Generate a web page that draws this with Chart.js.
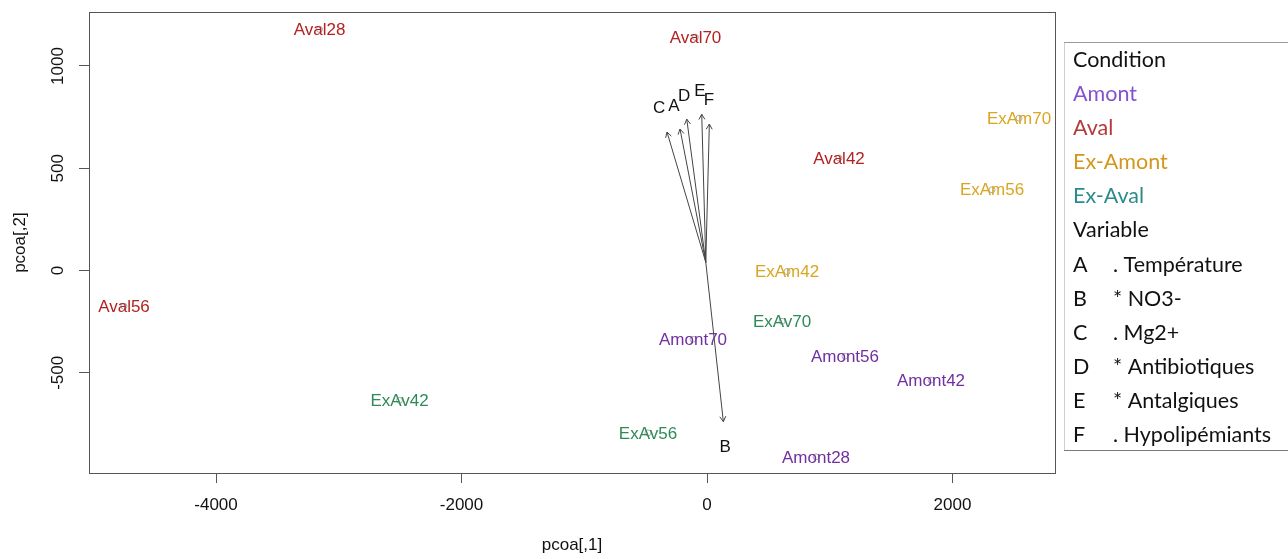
<!DOCTYPE html>
<html lang="fr">
<head>
<meta charset="utf-8">
<title>PCoA</title>
<script src="https://cdn.jsdelivr.net/npm/chart.js@4.4.0/dist/chart.umd.min.js"></script>
<style>
  html, body { margin: 0; padding: 0; background: #fff; }
  #wrap { position: relative; width: 1288px; height: 559px; }
</style>
</head>
<body>
<div id="wrap"><canvas id="pcoa-chart"></canvas></div>
<script>
// sample scores : pcoa[,1] / pcoa[,2]
const amontNames = ['Amont28', 'Amont42', 'Amont56', 'Amont70'];
const amontX = [888, 1825, 1124, -114];
const amontY = [-911, -536, -419, -336];

const avalNames = ['Aval28', 'Aval42', 'Aval56', 'Aval70'];
const avalX = [-3157, 1075, -4750, -94];
const avalY = [1179, 550, -175, 1140];

const exAmNames = ['ExAm42', 'ExAm56', 'ExAm70'];
const exAmX = [652, 2322, 2542];
const exAmY = [-5, 395, 745];

const exAvNames = ['ExAv42', 'ExAv56', 'ExAv70'];
const exAvX = [-2505, -481, 611];
const exAvY = [-635, -794, -248];

// environmental vectors (arrows start at the same origin)
const varCodes = ['A', 'B', 'C', 'D', 'E', 'F'];
const varOrigin = [-10, 40];
const varTipX = [-220, 133, -326, -165, -43, 19];
const varTipY = [692, -739, 677, 740, 764, 716];
const varLabelX = [-269, 147, -391, -187, -57, 16];
const varLabelY = [803, -862, 794, 852, 877, 833];

// legend
const conditions = ['Amont', 'Aval', 'Ex-Amont', 'Ex-Aval'];
const plotColors = ['#7030A0', '#B22222', '#DAA520', '#2E8B57'];
const legendColors = ['#8452CF', '#B33A3A', '#D4961C', '#2A8C8A'];
const varLabels = ['. Température', '* NO3-', '. Mg2+', '* Antibiotiques', '* Antalgiques', '. Hypolipémiants'];

const xTicks = [-4000, -2000, 0, 2000];
const yTicks = [-500, 0, 500, 1000];

const groups = [
  { names: amontNames, xs: amontX, ys: amontY },
  { names: avalNames, xs: avalX, ys: avalY },
  { names: exAmNames, xs: exAmX, ys: exAmY },
  { names: exAvNames, xs: exAvX, ys: exAvY },
];

const plotFont = '17px "Liberation Sans", Arial, sans-serif';

const sampleSets = groups.map((g, i) => ({
  label: conditions[i],
  kind: 'sample',
  names: g.names,
  textColor: plotColors[i],
  data: g.xs.map((x, k) => ({ x: x, y: g.ys[k] })),
  pointRadius: 3,
  pointBorderWidth: 1,
  pointBorderColor: '#aaaaaa',
  pointBackgroundColor: 'rgba(0,0,0,0)',
  showLine: false,
}));

const arrowSets = varCodes.map((code, i) => ({
  label: code,
  kind: 'arrow',
  data: [{ x: varOrigin[0], y: varOrigin[1] }, { x: varTipX[i], y: varTipY[i] }],
  showLine: true,
  borderColor: '#444444',
  borderWidth: 1,
  pointRadius: 0,
}));

const plotBox = {
  id: 'plotBox',
  afterDraw(chart) {
    const { ctx, chartArea: a } = chart;
    ctx.save();
    ctx.strokeStyle = '#555555';
    ctx.lineWidth = 1;
    ctx.strokeRect(Math.round(a.left) + 0.5, Math.round(a.top) + 0.5,
      Math.round(a.right - a.left), Math.round(a.bottom - a.top));
    ctx.restore();
  }
};

const marks = {
  id: 'marks',
  afterDatasetsDraw(chart) {
    const { ctx, scales } = chart;
    ctx.save();
    // arrow heads + letters
    chart.data.datasets.forEach((ds, i) => {
      if (ds.kind !== 'arrow') return;
      const [p0, p1] = chart.getDatasetMeta(i).data;
      const ang = Math.atan2(p1.y - p0.y, p1.x - p0.x);
      const L = 6;
      ctx.strokeStyle = '#444444';
      ctx.lineWidth = 1;
      ctx.beginPath();
      ctx.moveTo(p1.x - L * Math.cos(ang - Math.PI / 6), p1.y - L * Math.sin(ang - Math.PI / 6));
      ctx.lineTo(p1.x, p1.y);
      ctx.lineTo(p1.x - L * Math.cos(ang + Math.PI / 6), p1.y - L * Math.sin(ang + Math.PI / 6));
      ctx.stroke();
    });
    ctx.font = plotFont;
    ctx.textAlign = 'center';
    ctx.textBaseline = 'middle';
    ctx.fillStyle = '#111111';
    varCodes.forEach((code, i) => {
      ctx.fillText(code, scales.x.getPixelForValue(varLabelX[i]), scales.y.getPixelForValue(varLabelY[i]));
    });
    // sample names
    chart.data.datasets.forEach((ds, i) => {
      if (ds.kind !== 'sample') return;
      ctx.fillStyle = ds.textColor;
      chart.getDatasetMeta(i).data.forEach((pt, k) => {
        ctx.fillText(ds.names[k], pt.x, pt.y + 1);
      });
    });
    ctx.restore();
  }
};

const sideLegend = {
  id: 'sideLegend',
  afterDraw(chart) {
    const ctx = chart.ctx;
    const left = 1064, top = 42, bottom = 450, right = 1288;
    ctx.save();
    ctx.lineWidth = 1;
    ctx.strokeStyle = '#cfcfcf';
    ctx.beginPath(); ctx.moveTo(left + 0.5, top); ctx.lineTo(left + 0.5, bottom); ctx.stroke();
    ctx.strokeStyle = '#9a9a9a';
    ctx.beginPath(); ctx.moveTo(left, top + 0.5); ctx.lineTo(right, top + 0.5); ctx.stroke();
    ctx.strokeStyle = '#7a7a7a';
    ctx.beginPath(); ctx.moveTo(left, bottom + 0.5); ctx.lineTo(right, bottom + 0.5); ctx.stroke();

    const rows = [{ t: 'Condition', c: '#111111' }];
    conditions.forEach((c, i) => rows.push({ t: c, c: legendColors[i] }));
    rows.push({ t: 'Variable', c: '#111111' });
    varCodes.forEach((v, i) => rows.push({ t: v, c: '#111111', d: varLabels[i] }));

    ctx.font = '21.5px Lato, "Open Sans", sans-serif';
    ctx.textBaseline = 'middle';
    ctx.textAlign = 'left';
    const step = 34.1;
    rows.forEach((r, i) => {
      const y = top + 18 + i * step;
      ctx.fillStyle = r.c;
      ctx.fillText(r.t, 1073, y);
      if (r.d) ctx.fillText(r.d, 1113, y);
    });
    ctx.restore();
  }
};

const plainTick = (v) => String(v);

new Chart(document.getElementById('pcoa-chart').getContext('2d'), {
  type: 'scatter',
  data: { datasets: [...arrowSets, ...sampleSets] },
  options: {
    responsive: true,
    maintainAspectRatio: false,
    animation: false,
    layout: { padding: { left: 0, right: 233, top: 11, bottom: 0 } },
    plugins: { legend: { display: false }, tooltip: { enabled: false } },
    scales: {
      x: {
        type: 'linear',
        min: -5035,
        max: 2835,
        afterFit: (s) => { s.height = 86; },
        afterBuildTicks: (s) => { s.ticks = xTicks.map((v) => ({ value: v })); },
        border: { display: false },
        grid: { drawOnChartArea: false, tickLength: 10, color: '#555555' },
        ticks: {
          padding: 12,
          maxRotation: 0,
          color: '#111111',
          callback: plainTick,
          font: { family: '"Liberation Sans", Arial, sans-serif', size: 17 },
        },
        title: {
          display: true,
          text: 'pcoa[,1]',
          color: '#111111',
          padding: { top: 0, bottom: 3 },
          font: { family: '"Liberation Sans", Arial, sans-serif', size: 17 },
        },
      },
      y: {
        type: 'linear',
        min: -990,
        max: 1263,
        afterFit: (s) => { s.width = 89; },
        afterBuildTicks: (s) => { s.ticks = yTicks.map((v) => ({ value: v })); },
        border: { display: false },
        grid: { drawOnChartArea: false, tickLength: 10, color: '#555555' },
        ticks: {
          padding: 2,
          minRotation: 90,
          maxRotation: 90,
          crossAlign: 'center',
          color: '#111111',
          callback: plainTick,
          font: { family: '"Liberation Sans", Arial, sans-serif', size: 17 },
        },
        title: {
          display: true,
          text: 'pcoa[,2]',
          color: '#111111',
          padding: { top: 10, bottom: 0 },
          font: { family: '"Liberation Sans", Arial, sans-serif', size: 17 },
        },
      },
    },
  },
  plugins: [plotBox, marks, sideLegend],
});
</script>
</body>
</html>
